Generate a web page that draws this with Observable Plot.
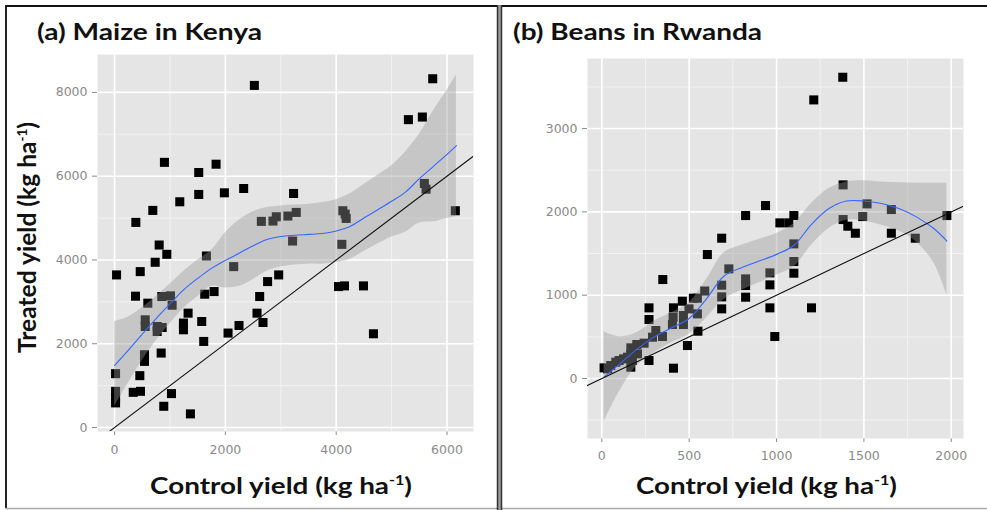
<!DOCTYPE html>
<html>
<head>
<meta charset="utf-8">
<script src="https://cdn.jsdelivr.net/npm/d3@7"></script>
<script src="https://cdn.jsdelivr.net/npm/@observablehq/plot@0.6"></script>
<style>
  html, body { margin: 0; padding: 0; background: #fff; }
  #wrap { position: relative; width: 987px; height: 510px; overflow: hidden; background: #fff; }
  #pa, #pb, #overlay { position: absolute; top: 0; }
  #pa { left: 0; }
  #pb { left: 500px; }
  #overlay { left: 0; pointer-events: none; }
</style>
</head>
<body>
<div id="wrap">
  <div id="pa"></div>
  <div id="pb"></div>
  <svg id="overlay" width="987" height="510" xmlns="http://www.w3.org/2000/svg">
    <line x1="5" y1="6" x2="987" y2="6" stroke="#111" stroke-width="2"/>
    <line x1="6" y1="5" x2="6" y2="509" stroke="#222" stroke-width="2"/>
    <line x1="5" y1="508.5" x2="987" y2="508.5" stroke="#aaa" stroke-width="1.5"/>
    <rect x="497" y="5" width="5" height="505" fill="#9a9a9a"/>
    <line x1="497.5" y1="5" x2="497.5" y2="510" stroke="#333" stroke-width="1.5"/>
    <line x1="501.5" y1="5" x2="501.5" y2="510" stroke="#333" stroke-width="1.5"/>
    <g font-family="Lato, 'Open Sans', sans-serif" font-weight="700" fill="#111">
      <text x="37" y="40" font-size="22.5" textLength="225" lengthAdjust="spacingAndGlyphs">(a) Maize in Kenya</text>
      <text x="513" y="40" font-size="22.5" textLength="249" lengthAdjust="spacingAndGlyphs">(b) Beans in Rwanda</text>
      <text transform="translate(36,237.5) rotate(-90)" text-anchor="middle" font-size="24" textLength="231" lengthAdjust="spacingAndGlyphs"><tspan>Treated yield (kg ha</tspan><tspan font-size="13" dy="-9">-1</tspan><tspan dy="9">)</tspan></text>
      <text x="150" y="494" font-size="22.5" textLength="262" lengthAdjust="spacingAndGlyphs"><tspan>Control yield (kg ha</tspan><tspan font-size="13" dy="-9">-1</tspan><tspan dy="9">)</tspan></text>
      <text x="636" y="494" font-size="22.5" textLength="261" lengthAdjust="spacingAndGlyphs"><tspan>Control yield (kg ha</tspan><tspan font-size="13" dy="-9">-1</tspan><tspan dy="9">)</tspan></text>
    </g>
  </svg>
</div>
<script>
// ---------- Panel (a) Maize in Kenya ----------
const maizeControl = [900,1519,1832,1519,1982,2330,1177,690,384,805,943,733,463,36,1658,2150,378,600,852,1009,1039,1327,1627,1796,553,553,769,859,769,1243,1243,1573,1609,2048,2246,540,540,841,18,456,18,18,18,337,468,1027,888,1369,2523,5742,5303,5555,3231,2649,2859,2919,3128,3279,4120,4162,4180,3213,4102,5591,5622,6150,2962,2762,2619,4042,4150,4492,2571,2679,4672];
const maizeTreated = [6330,6088,6286,5564,5603,5706,5389,5183,4897,4357,4135,3945,3722,3643,4095,3841,3135,2968,3127,3143,2920,2730,3183,3246,2571,2412,2412,2388,2293,2493,2333,2531,2055,2255,2436,1738,1579,1778,1286,1238,864,707,588,840,864,810,507,326,8167,8326,7350,7412,5587,4921,4929,5031,5048,5135,5175,5095,4992,4452,4373,5826,5690,5175,3643,3484,3127,3365,3381,3381,2730,2507,2238];

const maizeSmoothX = [0,250,500,750,1000,1250,1500,1750,2000,2250,2500,2750,3000,3250,3500,3750,4000,4250,4500,4750,5000,5250,5500,5750,6000,6170];
const maizeFit   = [1480,1850,2230,2600,2950,3290,3560,3800,3990,4160,4340,4490,4560,4590,4610,4630,4690,4800,5000,5200,5400,5620,5940,6230,6520,6730];
const maizeUpper = [2530,2640,2860,3130,3420,3730,4000,4230,4650,4950,5150,5250,5290,5310,5330,5370,5440,5580,5800,6020,6250,6580,7000,7550,8050,8420];
const maizeLower = [500,1060,1600,2070,2480,2850,3120,3370,3330,3370,3530,3730,3830,3880,3900,3900,3940,4020,4200,4380,4550,4660,4880,4910,4990,5040];

const maizeXMajor = [0,2000,4000,6000];
const maizeXMinor = [1000,3000,5000];
const maizeYMajor = [0,2000,4000,6000,8000];
const maizeYMinor = [1000,3000,5000,7000];

// ---------- Panel (b) Beans in Rwanda ----------
const beansControl = [1379,1213,1381,1518,1657,1493,1381,1408,1451,1657,1794,1975,937,823,1019,1070,1099,1099,1099,1099,962,962,823,823,823,962,1200,990,686,604,349,727,686,686,686,547,589,461,270,410,408,467,467,499,547,270,404,309,347,550,490,270,410,166,200,166,147,242,204,175,124,99,80,51,13,33,166,290,524];
const beansTreated = [3616,3344,2324,2096,2028,1944,1908,1828,1744,1744,1684,1956,2076,1956,1868,1868,1956,1616,1404,1264,1268,1124,1196,1116,976,848,848,504,1684,1488,1188,1316,1120,980,836,964,1050,928,848,848,736,756,648,836,776,708,648,576,504,568,396,216,124,368,408,288,256,424,296,216,236,216,196,156,128,116,136,496,964];

const beansSmoothX = [13,100,200,300,400,500,600,700,800,900,1000,1100,1200,1300,1400,1500,1600,1700,1800,1900,1975];
const beansFit   = [20,170,350,500,610,720,960,1230,1330,1410,1490,1600,1850,2040,2130,2130,2100,2040,1940,1800,1650];
const beansUpper = [560,500,550,690,790,910,1190,1510,1600,1670,1740,1860,2100,2280,2360,2375,2360,2350,2345,2345,2345];
const beansLower = [-520,-160,150,310,430,530,730,950,1060,1150,1240,1340,1600,1800,1900,1890,1840,1770,1640,1390,1000];

const beansXMajor = [0,500,1000,1500,2000];
const beansXMinor = [250,750,1250,1750];
const beansYMajor = [0,1000,2000,3000];
const beansYMinor = [-500,500,1500,2500,3500];

// 1:1 reference line endpoints (clipped to panel)
const oneToOne = [-2000, 12000];

function panel(cfg) {
  const pts = cfg.control.map((x, i) => ({x, y: cfg.treated[i]}));
  const smooth = cfg.sx.map((x, i) => ({x, fit: cfg.fit[i], lo: cfg.lower[i], hi: cfg.upper[i]}));
  return Plot.plot({
    width: cfg.width, height: cfg.height,
    marginLeft: cfg.ml, marginRight: cfg.mr, marginTop: cfg.mt, marginBottom: cfg.mb,
    style: {fontFamily: "'DejaVu Sans', sans-serif", fontSize: "12.5px", color: "#8a8a8a", background: "transparent"},
    x: {domain: cfg.xDomain, ticks: cfg.xMajor, tickFormat: "d", tickSize: 4, tickPadding: cfg.xPad, label: null},
    y: {domain: cfg.yDomain, ticks: cfg.yMajor, tickFormat: "d", tickSize: 5, tickPadding: 5, label: null},
    marks: [
      Plot.frame({fill: "#E5E5E5", stroke: null}),
      Plot.ruleX(cfg.xMinor, {stroke: "#F2F2F2", strokeWidth: 1}),
      Plot.ruleY(cfg.yMinor, {stroke: "#F2F2F2", strokeWidth: 1}),
      Plot.ruleX(cfg.xMajor, {stroke: "#ffffff", strokeWidth: 1.6}),
      Plot.ruleY(cfg.yMajor, {stroke: "#ffffff", strokeWidth: 1.6}),
      Plot.dot(pts, {x: "x", y: "y", symbol: "square", r: 5.1, fill: "#000", stroke: null}),
      Plot.areaY(smooth, {x: "x", y1: "lo", y2: "hi", fill: "#999999", fillOpacity: 0.4, curve: "catmull-rom"}),
      Plot.line(smooth, {x: "x", y: "fit", stroke: "#3366FF", strokeWidth: 1.1, curve: "catmull-rom"}),
      Plot.line(oneToOne, {x: d => d, y: d => d, stroke: "#111", strokeWidth: 1.1, clip: true})
    ]
  });
}

document.getElementById("pa").appendChild(panel({
  control: maizeControl, treated: maizeTreated,
  sx: maizeSmoothX, fit: maizeFit, upper: maizeUpper, lower: maizeLower,
  xMajor: maizeXMajor, xMinor: maizeXMinor, yMajor: maizeYMajor, yMinor: maizeYMinor,
  width: 490, height: 500, ml: 97, mr: 17, mt: 54, mb: 69, xPad: 10,
  xDomain: [-308, 6478], yDomain: [-95, 8905]
}));

document.getElementById("pb").appendChild(panel({
  control: beansControl, treated: beansTreated,
  sx: beansSmoothX, fit: beansFit, upper: beansUpper, lower: beansLower,
  xMajor: beansXMajor, xMinor: beansXMinor, yMajor: beansYMajor, yMinor: beansYMinor,
  width: 487, height: 500, ml: 87, mr: 24, mt: 58, mb: 62, xPad: 9,
  xDomain: [-82, 2070], yDomain: [-720, 3841]
}));
</script>
</body>
</html>
